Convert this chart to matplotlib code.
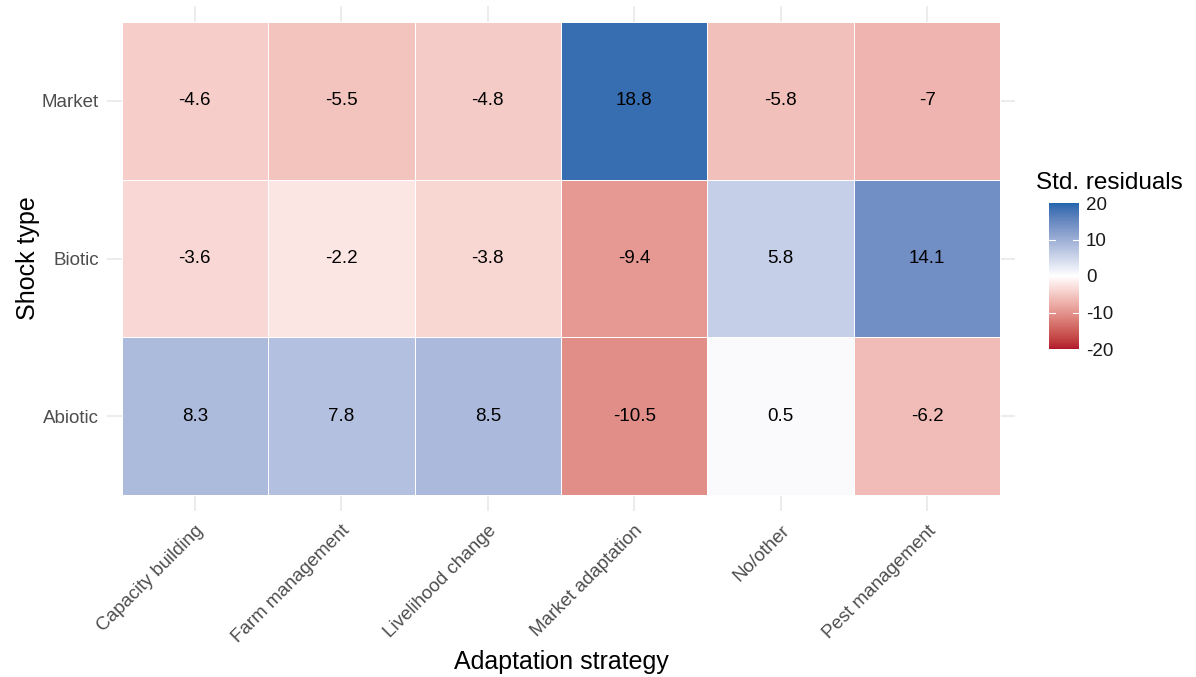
import numpy as np
import matplotlib
matplotlib.use("Agg")
import matplotlib.pyplot as plt
from matplotlib.colors import ListedColormap, Normalize, to_rgb

strategies = ["Capacity building", "Farm management", "Livelihood change",
              "Market adaptation", "No/other", "Pest management"]
shocks = ["Abiotic", "Biotic", "Market"]  # bottom to top
residuals_abiotic = [8.3, 7.8, 8.5, -10.5, 0.5, -6.2]
residuals_biotic = [-3.6, -2.2, -3.8, -9.4, 5.8, 14.1]
residuals_market = [-4.6, -5.5, -4.8, 18.8, -5.8, -7]
labels_abiotic = ["8.3", "7.8", "8.5", "-10.5", "0.5", "-6.2"]
labels_biotic = ["-3.6", "-2.2", "-3.8", "-9.4", "5.8", "14.1"]
labels_market = ["-4.6", "-5.5", "-4.8", "18.8", "-5.8", "-7"]
cbar_ticks = [-20, -10, 0, 10, 20]

Z = np.array([residuals_abiotic, residuals_biotic, residuals_market])
L = [labels_abiotic, labels_biotic, labels_market]

plt.rcParams['font.family'] = ['Liberation Sans', 'DejaVu Sans']
plt.rcParams['axes.unicode_minus'] = False

# --- Lab interpolation (like ggplot2's scale_fill_gradient2) ---
def srgb_to_lin(c):
    c = np.asarray(c)
    return np.where(c <= 0.04045, c / 12.92, ((c + 0.055) / 1.055) ** 2.4)

def lin_to_srgb(c):
    c = np.clip(c, 0, 1)
    return np.where(c <= 0.0031308, 12.92 * c, 1.055 * c ** (1 / 2.4) - 0.055)

M = np.array([[0.4124, 0.3576, 0.1805], [0.2126, 0.7152, 0.0722], [0.0193, 0.1192, 0.9505]])
Minv = np.linalg.inv(M)
wp = np.array([0.95047, 1.0, 1.08883])

def f(t):
    d = 6 / 29
    return np.where(t > d ** 3, np.cbrt(t), t / (3 * d * d) + 4 / 29)

def finv(t):
    d = 6 / 29
    return np.where(t > d, t ** 3, 3 * d * d * (t - 4 / 29))

def rgb2lab(rgb):
    xyz = M @ srgb_to_lin(rgb) / wp
    fx, fy, fz = f(xyz)
    return np.array([116 * fy - 16, 500 * (fx - fy), 200 * (fy - fz)])

def lab2rgb(lab):
    Lv, a, b = lab
    fy = (Lv + 16) / 116
    fx = fy + a / 500
    fz = fy - b / 200
    xyz = np.array([finv(fx), finv(fy), finv(fz)]) * wp
    return lin_to_srgb(Minv @ xyz)

low, mid, high = rgb2lab(to_rgb("#B2182B")), rgb2lab(to_rgb("#FFFFFF")), rgb2lab(to_rgb("#2166AC"))
N = 256
cols = []
for t in np.linspace(0, 1, N):
    if t < 0.5:
        s = t / 0.5
        lab = low + (mid - low) * s
    else:
        s = (t - 0.5) / 0.5
        lab = mid + (high - mid) * s
    cols.append(lab2rgb(lab))
cmap = ListedColormap(np.clip(np.array(cols), 0, 1))
norm = Normalize(vmin=-20, vmax=20)

fig = plt.figure(figsize=(11.96, 6.77), dpi=100)
ax = fig.add_axes([107 / 1196, 1 - 511 / 677, 908 / 1196, 505 / 677])

x = np.arange(len(strategies))
y = np.arange(len(shocks))
ax.set_xlim(-0.6, len(strategies) - 0.4)
ax.set_ylim(-0.6, len(shocks) - 0.4)
for xi in x:
    ax.axvline(xi, color="#EBEBEB", lw=1.3, zorder=0)
for yi in y:
    ax.axhline(yi, color="#EBEBEB", lw=1.3, zorder=0)

xe = np.arange(len(strategies) + 1) - 0.5
ye = np.arange(len(shocks) + 1) - 0.5
mesh = ax.pcolormesh(xe, ye, Z, cmap=cmap, norm=norm, edgecolors="white",
                     linewidth=0.5, zorder=1)
for i in range(len(shocks)):
    for j in range(len(strategies)):
        ax.text(x[j], y[i], L[i][j], ha="center", va="center", fontsize=13.5,
                color="black", zorder=2)

for s in ax.spines.values():
    s.set_visible(False)
ax.set_xticks(x)
ax.set_xticklabels(strategies, rotation=45, ha="right", rotation_mode="anchor",
                   fontsize=13.5, color="#4D4D4D")
ax.set_yticks(y)
ax.set_yticklabels(shocks, fontsize=13.5, color="#4D4D4D")
ax.tick_params(length=0)
ax.tick_params(axis="y", pad=6)
ax.tick_params(axis="x", pad=8)
fig.text(561 / 1196, 1 - 662 / 677, "Adaptation strategy", fontsize=18,
         ha="center", va="center")
fig.text(28 / 1196, 1 - 258 / 677, "Shock type", fontsize=18, rotation=90,
         ha="center", va="center")

cax = fig.add_axes([1049 / 1196, 1 - 349 / 677, 30 / 1196, 146 / 677])
cb = fig.colorbar(mesh, cax=cax, ticks=cbar_ticks)
cb.outline.set_visible(False)
cax.tick_params(length=0, labelsize=13.5, pad=5, labelcolor="#1A1A1A")
for v in [-10, 0, 10]:
    cax.axhline(v, xmin=0, xmax=0.2, color="white", lw=0.8)
    cax.axhline(v, xmin=0.8, xmax=1, color="white", lw=0.8)
fig.text(1036 / 1196, 1 - 183 / 677, "Std. residuals", fontsize=17.5,
         ha="left", va="center")

fig.savefig("out.png", dpi=100, facecolor="white")
